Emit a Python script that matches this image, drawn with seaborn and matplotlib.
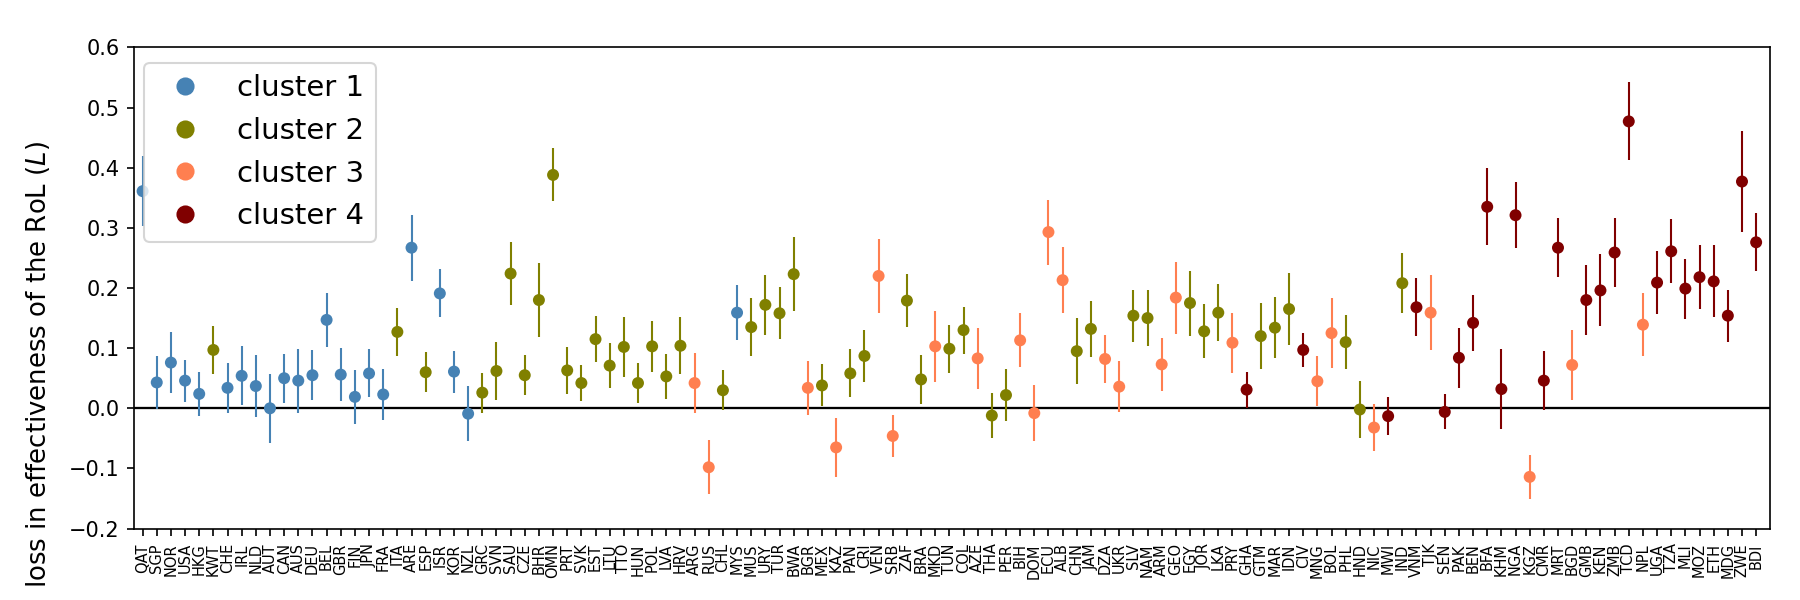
import numpy as np
import pandas as pd
import matplotlib
matplotlib.use("Agg")
import matplotlib.pyplot as plt
import seaborn as sns
from matplotlib.lines import Line2D

countries = ["QAT", "SGP", "NOR", "USA", "HKG", "KWT", "CHE", "IRL", "NLD", "AUT",
             "CAN", "AUS", "DEU", "BEL", "GBR", "FIN", "JPN", "FRA", "ITA", "ARE",
             "ESP", "ISR", "KOR", "NZL", "GRC", "SVN", "SAU", "CZE", "BHR", "OMN",
             "PRT", "SVK", "EST", "LTU", "TTO", "HUN", "POL", "LVA", "HRV", "ARG",
             "RUS", "CHL", "MYS", "MUS", "URY", "TUR", "BWA", "BGR", "MEX", "KAZ",
             "PAN", "CRI", "VEN", "SRB", "ZAF", "BRA", "MKD", "TUN", "COL", "AZE",
             "THA", "PER", "BIH", "DOM", "ECU", "ALB", "CHN", "JAM", "DZA", "UKR",
             "SLV", "NAM", "ARM", "GEO", "EGY", "JOR", "LKA", "PRY", "GHA", "GTM",
             "MAR", "IDN", "CIV", "MNG", "BOL", "PHL", "HND", "NIC", "MWI", "IND",
             "VNM", "TJK", "SEN", "PAK", "BEN", "BFA", "KHM", "NGA", "KGZ", "CMR",
             "MRT", "BGD", "GMB", "KEN", "ZMB", "TCD", "NPL", "UGA", "TZA", "MLI",
             "MOZ", "ETH", "MDG", "ZWE", "BDI"]

loss = [0.361, 0.043, 0.076, 0.046, 0.024, 0.097, 0.034, 0.054, 0.037, 0.000,
        0.050, 0.046, 0.055, 0.147, 0.056, 0.019, 0.058, 0.023, 0.127, 0.267,
        0.060, 0.191, 0.061, -0.009, 0.026, 0.062, 0.224, 0.055, 0.180, 0.388,
        0.063, 0.042, 0.115, 0.071, 0.102, 0.042, 0.103, 0.053, 0.104, 0.042,
        -0.098, 0.030, 0.159, 0.135, 0.172, 0.158, 0.223, 0.034, 0.038, -0.065,
        0.058, 0.087, 0.220, -0.046, 0.179, 0.048, 0.103, 0.099, 0.130, 0.083,
        -0.012, 0.022, 0.113, -0.008, 0.293, 0.213, 0.095, 0.132, 0.082, 0.036,
        0.154, 0.150, 0.073, 0.184, 0.175, 0.128, 0.159, 0.109, 0.031, 0.120,
        0.134, 0.165, 0.097, 0.045, 0.125, 0.110, -0.002, -0.032, -0.013, 0.208,
        0.168, 0.159, -0.006, 0.084, 0.142, 0.335, 0.032, 0.321, -0.114, 0.046,
        0.267, 0.072, 0.180, 0.196, 0.259, 0.477, 0.139, 0.209, 0.261, 0.199,
        0.218, 0.211, 0.154, 0.377, 0.276]

err = [0.058, 0.044, 0.051, 0.035, 0.036, 0.040, 0.041, 0.049, 0.052, 0.057,
       0.041, 0.053, 0.042, 0.045, 0.044, 0.045, 0.040, 0.042, 0.040, 0.055,
       0.033, 0.040, 0.035, 0.046, 0.033, 0.048, 0.053, 0.033, 0.061, 0.044,
       0.039, 0.030, 0.038, 0.037, 0.050, 0.034, 0.042, 0.037, 0.047, 0.050,
       0.045, 0.033, 0.046, 0.048, 0.050, 0.043, 0.062, 0.045, 0.035, 0.049,
       0.040, 0.043, 0.061, 0.035, 0.044, 0.041, 0.059, 0.040, 0.039, 0.051,
       0.037, 0.043, 0.045, 0.046, 0.054, 0.055, 0.055, 0.046, 0.040, 0.042,
       0.043, 0.047, 0.044, 0.060, 0.054, 0.045, 0.047, 0.050, 0.030, 0.055,
       0.051, 0.060, 0.028, 0.042, 0.058, 0.045, 0.047, 0.039, 0.032, 0.050,
       0.048, 0.062, 0.029, 0.050, 0.047, 0.064, 0.066, 0.055, 0.037, 0.049,
       0.049, 0.058, 0.058, 0.060, 0.058, 0.065, 0.052, 0.052, 0.053, 0.050,
       0.053, 0.060, 0.043, 0.084, 0.048]

cluster = [1, 1, 1, 1, 1, 2, 1, 1, 1, 1,
           1, 1, 1, 1, 1, 1, 1, 1, 2, 1,
           2, 1, 1, 1, 2, 2, 2, 2, 2, 2,
           2, 2, 2, 2, 2, 2, 2, 2, 2, 3,
           3, 2, 1, 2, 2, 2, 2, 3, 2, 3,
           2, 2, 3, 3, 2, 2, 3, 2, 2, 3,
           2, 2, 3, 3, 3, 3, 2, 2, 3, 3,
           2, 2, 3, 3, 2, 2, 2, 3, 4, 2,
           2, 2, 4, 3, 3, 2, 2, 3, 4, 2,
           4, 3, 4, 4, 4, 4, 4, 4, 3, 4,
           4, 3, 4, 4, 4, 4, 3, 4, 4, 4,
           4, 4, 4, 4, 4]

cluster_names = ["cluster 1", "cluster 2", "cluster 3", "cluster 4"]
palette = {1: "steelblue", 2: "olive", 3: "coral", 4: "maroon"}

df = pd.DataFrame({"country": countries, "loss": loss, "err": err, "cluster": cluster})
df["pos"] = np.arange(len(df))

fig, ax = plt.subplots(figsize=(12, 4), dpi=150)
fig.subplots_adjust(left=0.0745, right=0.9835, top=0.921, bottom=0.119)

ax.axhline(0, color="black", lw=1.1, zorder=1)
for c in [1, 2, 3, 4]:
    sub = df[df["cluster"] == c]
    ax.errorbar(sub["pos"], sub["loss"], yerr=sub["err"], fmt="none",
                ecolor=palette[c], elinewidth=1.0, capsize=0, zorder=2)

sns.scatterplot(data=df, x="pos", y="loss", hue="cluster", palette=palette,
                s=33, linewidth=0, ax=ax, legend=False, zorder=3)

ax.set_xticks(df["pos"])
ax.set_xticklabels(df["country"], rotation=90, fontsize=7)
ax.set_xlim(-0.6, len(df))
ax.set_ylim(-0.2, 0.6)
ax.set_yticks(np.arange(-0.2, 0.61, 0.1))
ax.tick_params(axis="y", labelsize=10)
ax.set_xlabel("")
ax.set_ylabel("loss in effectiveness of the RoL ($L$)", fontsize=12.5)
ax.yaxis.set_label_coords(-0.050, 0.342)

handles = [Line2D([0], [0], marker="o", ls="", color=palette[c], markersize=7.7)
           for c in [1, 2, 3, 4]]
ax.legend(handles, cluster_names, loc="upper left", fontsize=14,
          bbox_to_anchor=(0.006, 0.968), borderaxespad=0)

fig.savefig("out.png", dpi=150)
